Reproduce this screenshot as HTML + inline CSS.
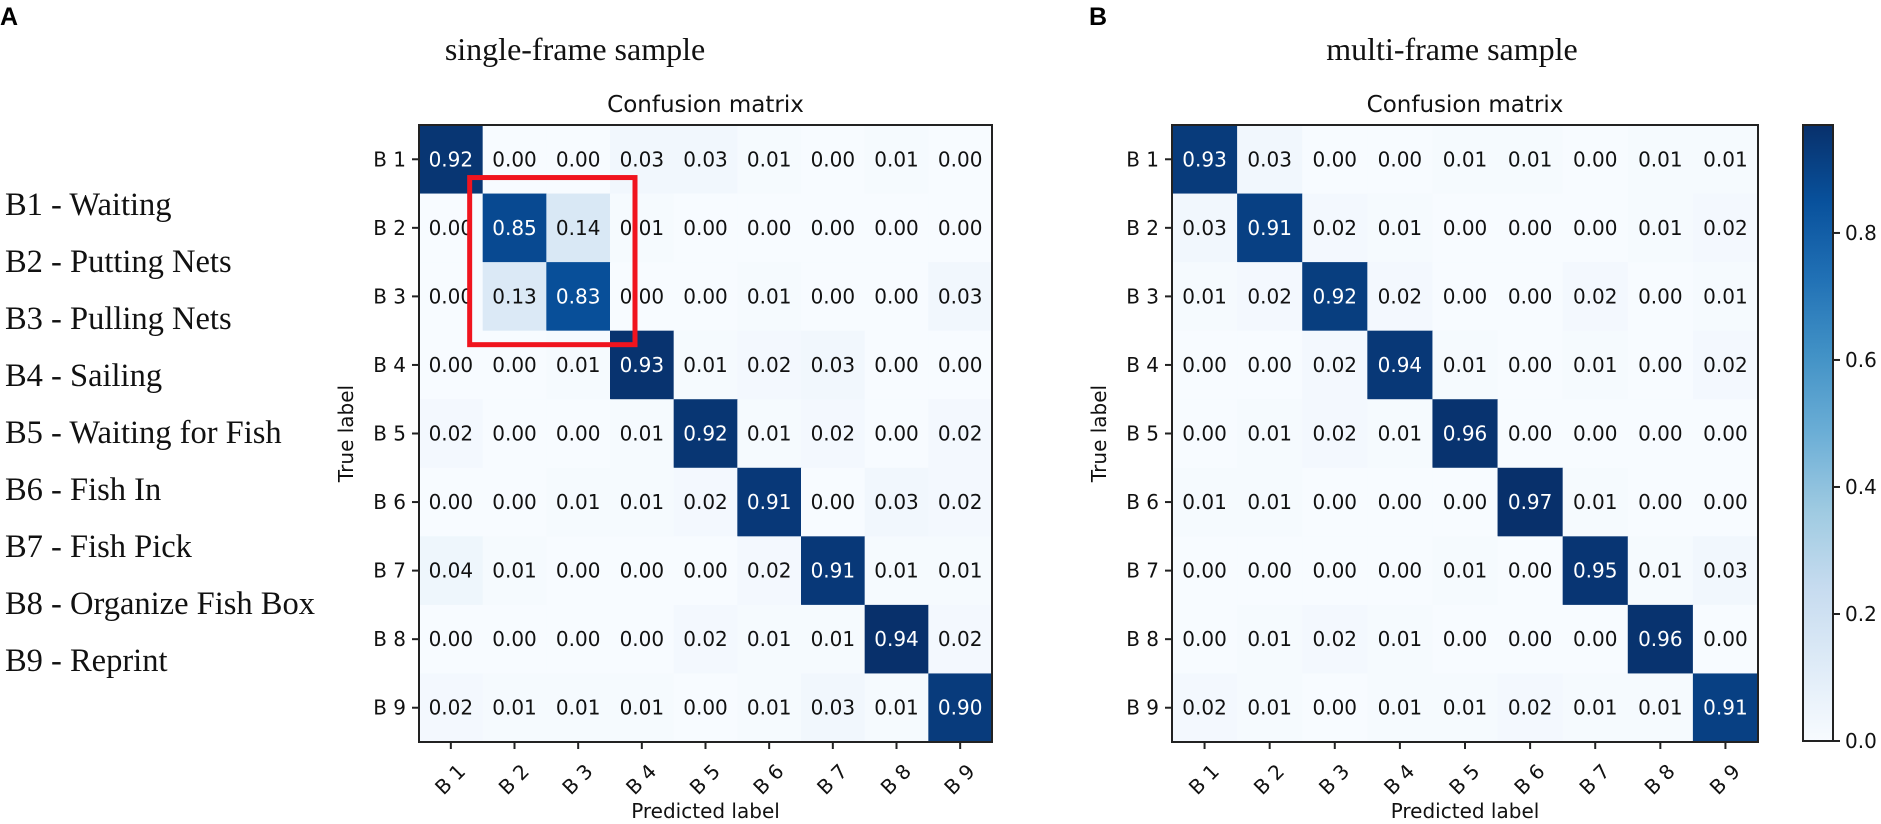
<!DOCTYPE html>
<html><head><meta charset="utf-8"><style>
html,body{margin:0;padding:0;background:#fff;}
svg{display:block;}
</style></head><body>
<svg id="fig" width="1881" height="824" xmlns="http://www.w3.org/2000/svg"></svg>
<script>
const categories = ["B 1","B 2","B 3","B 4","B 5","B 6","B 7","B 8","B 9"];
const legendLabels = ["B1 - Waiting","B2 - Putting Nets","B3 - Pulling Nets","B4 - Sailing","B5 - Waiting for Fish","B6 - Fish In","B7 - Fish Pick","B8 - Organize Fish Box","B9 - Reprint"];
const singleFrame = [
 [0.92,0.00,0.00,0.03,0.03,0.01,0.00,0.01,0.00],
 [0.00,0.85,0.14,0.01,0.00,0.00,0.00,0.00,0.00],
 [0.00,0.13,0.83,0.00,0.00,0.01,0.00,0.00,0.03],
 [0.00,0.00,0.01,0.93,0.01,0.02,0.03,0.00,0.00],
 [0.02,0.00,0.00,0.01,0.92,0.01,0.02,0.00,0.02],
 [0.00,0.00,0.01,0.01,0.02,0.91,0.00,0.03,0.02],
 [0.04,0.01,0.00,0.00,0.00,0.02,0.91,0.01,0.01],
 [0.00,0.00,0.00,0.00,0.02,0.01,0.01,0.94,0.02],
 [0.02,0.01,0.01,0.01,0.00,0.01,0.03,0.01,0.90]];
const multiFrame = [
 [0.93,0.03,0.00,0.00,0.01,0.01,0.00,0.01,0.01],
 [0.03,0.91,0.02,0.01,0.00,0.00,0.00,0.01,0.02],
 [0.01,0.02,0.92,0.02,0.00,0.00,0.02,0.00,0.01],
 [0.00,0.00,0.02,0.94,0.01,0.00,0.01,0.00,0.02],
 [0.00,0.01,0.02,0.01,0.96,0.00,0.00,0.00,0.00],
 [0.01,0.01,0.00,0.00,0.00,0.97,0.01,0.00,0.00],
 [0.00,0.00,0.00,0.00,0.01,0.00,0.95,0.01,0.03],
 [0.00,0.01,0.02,0.01,0.00,0.00,0.00,0.96,0.00],
 [0.02,0.01,0.00,0.01,0.01,0.02,0.01,0.01,0.91]];
const colorbarTicks = [0.0,0.2,0.4,0.6,0.8];

const NS="http://www.w3.org/2000/svg";
const svg=document.getElementById('fig');
function el(tag,attrs,parent,text){const e=document.createElementNS(NS,tag);for(const k in attrs)e.setAttribute(k,attrs[k]);if(text!==undefined)e.textContent=text;(parent||svg).appendChild(e);return e;}
const stops=["#f7fbff","#deebf7","#c6dbef","#9ecae1","#6baed6","#4292c6","#2171b5","#08519c","#08306b"];
function hex(h){return [1,3,5].map(i=>parseInt(h.substr(i,2),16));}
function blues(t){t=Math.max(0,Math.min(1,t));const p=t*8,i=Math.min(7,Math.floor(p)),f=p-i;const a=hex(stops[i]),b=hex(stops[i+1]);return `rgb(${a.map((v,k)=>Math.round(v+(b[k]-v)*f)).join(',')})`;}
const sans='"DejaVu Sans","Liberation Sans",sans-serif';
const serif='"Liberation Serif",serif';

function drawMatrix(data,x0,y0,w,h,name,title,titleX,vmax){
  const g=el('g',{},svg);
  
  
  const n=categories.length,cw=w/n,ch=h/n;
  const xs=i=>x0+i*cw, ys=j=>y0+j*ch;
  data.forEach((row,r)=>row.forEach((v,c)=>{
    const rc=el('rect',{x:xs(c),y:ys(r),width:cw+0.5,height:ch+0.5,fill:blues(v/vmax)},g);
    
    
    const t=el('text',{x:xs(c)+cw/2,y:ys(r)+ch/2+7,'text-anchor':'middle','font-family':sans,'font-size':20,fill:v>vmax/2?'#fff':'#111'},g,v.toFixed(2));
    
    
  }));
  const fr=el('rect',{x:x0,y:y0,width:w,height:h,fill:'none',stroke:'#222','stroke-width':2},g);
  
  
  categories.forEach((c,i)=>{
    const cy=ys(i)+ch/2;
    el('line',{x1:x0-7,x2:x0,y1:cy,y2:cy,stroke:'#222','stroke-width':2},g);
    const yt=el('text',{x:x0-13,y:cy+7,'text-anchor':'end','font-family':sans,'font-size':20,fill:'#111'},g,c);
    
    
    const cx=xs(i)+cw/2;
    el('line',{x1:cx,x2:cx,y1:y0+h,y2:y0+h+7,stroke:'#222','stroke-width':2},g);
    const xt=el('text',{x:cx,y:y0+h+44,'text-anchor':'middle','font-family':sans,'font-size':20,fill:'#111',transform:`rotate(-45 ${cx} ${y0+h+38})`},g,c);
    
    
  });
  const tt=el('text',{x:x0+w/2,y:y0-13,'text-anchor':'middle','font-family':sans,'font-size':23,fill:'#111'},g,'Confusion matrix');
  
  
  const st=el('text',{x:titleX,y:60,'text-anchor':'middle','font-family':serif,'font-size':32,fill:'#111'},g,title);
  
  
  const xl=el('text',{x:x0+w/2,y:818,'text-anchor':'middle','font-family':sans,'font-size':20,fill:'#111'},g,'Predicted label');
  
  
  const ly=x0-66,my=y0+h/2;
  const yl=el('text',{x:ly,y:my,'text-anchor':'middle','font-family':sans,'font-size':20,fill:'#111',transform:`rotate(-90 ${ly} ${my})`},g,'True label');
  
  
  return {xs,ys,cw,ch};
}

const L=drawMatrix(singleFrame,419,125,573,617,'single-frame-matrix','single-frame sample',575,Math.max(...singleFrame.flat()));
drawMatrix(multiFrame,1172,125,586,617,'multi-frame-matrix','multi-frame sample',1452,0.97);

const hb=el('rect',{x:L.xs(1)-13,y:L.ys(1)-16,width:L.cw*2+38,height:L.ch*2+30,fill:'none',stroke:'#f0141e','stroke-width':5});



const cbX=1803,cbY=125,cbW=30,cbH=616,cbMax=0.97;
const defs=el('defs',{});
const lg=el('linearGradient',{id:'cbg',x1:0,y1:1,x2:0,y2:0},defs);
for(let i=0;i<=16;i++){el('stop',{offset:i/16,'stop-color':blues(i/16)},lg);}
const cb=el('rect',{x:cbX,y:cbY,width:cbW,height:cbH,fill:'url(#cbg)',stroke:'#222','stroke-width':2});


colorbarTicks.forEach(v=>{
  const y=cbY+cbH-v/cbMax*cbH;
  el('line',{x1:cbX+cbW,x2:cbX+cbW+7,y1:y,y2:y,stroke:'#222','stroke-width':2});
  const t=el('text',{x:cbX+cbW+12,y:y+7,'font-family':sans,'font-size':20,fill:'#111'},undefined,v.toFixed(1));
  
  
});

legendLabels.forEach((s,i)=>{
  const t=el('text',{x:5,y:215+i*57,'font-family':serif,'font-size':32.5,fill:'#111'},undefined,s);
  
  
});
const pa=el('text',{x:0,y:25,'font-family':'"Liberation Sans",sans-serif','font-size':25,'font-weight':'bold',fill:'#000'},undefined,'A');


const pb=el('text',{x:1089,y:25,'font-family':'"Liberation Sans",sans-serif','font-size':25,'font-weight':'bold',fill:'#000'},undefined,'B');


</script>
</body></html>
